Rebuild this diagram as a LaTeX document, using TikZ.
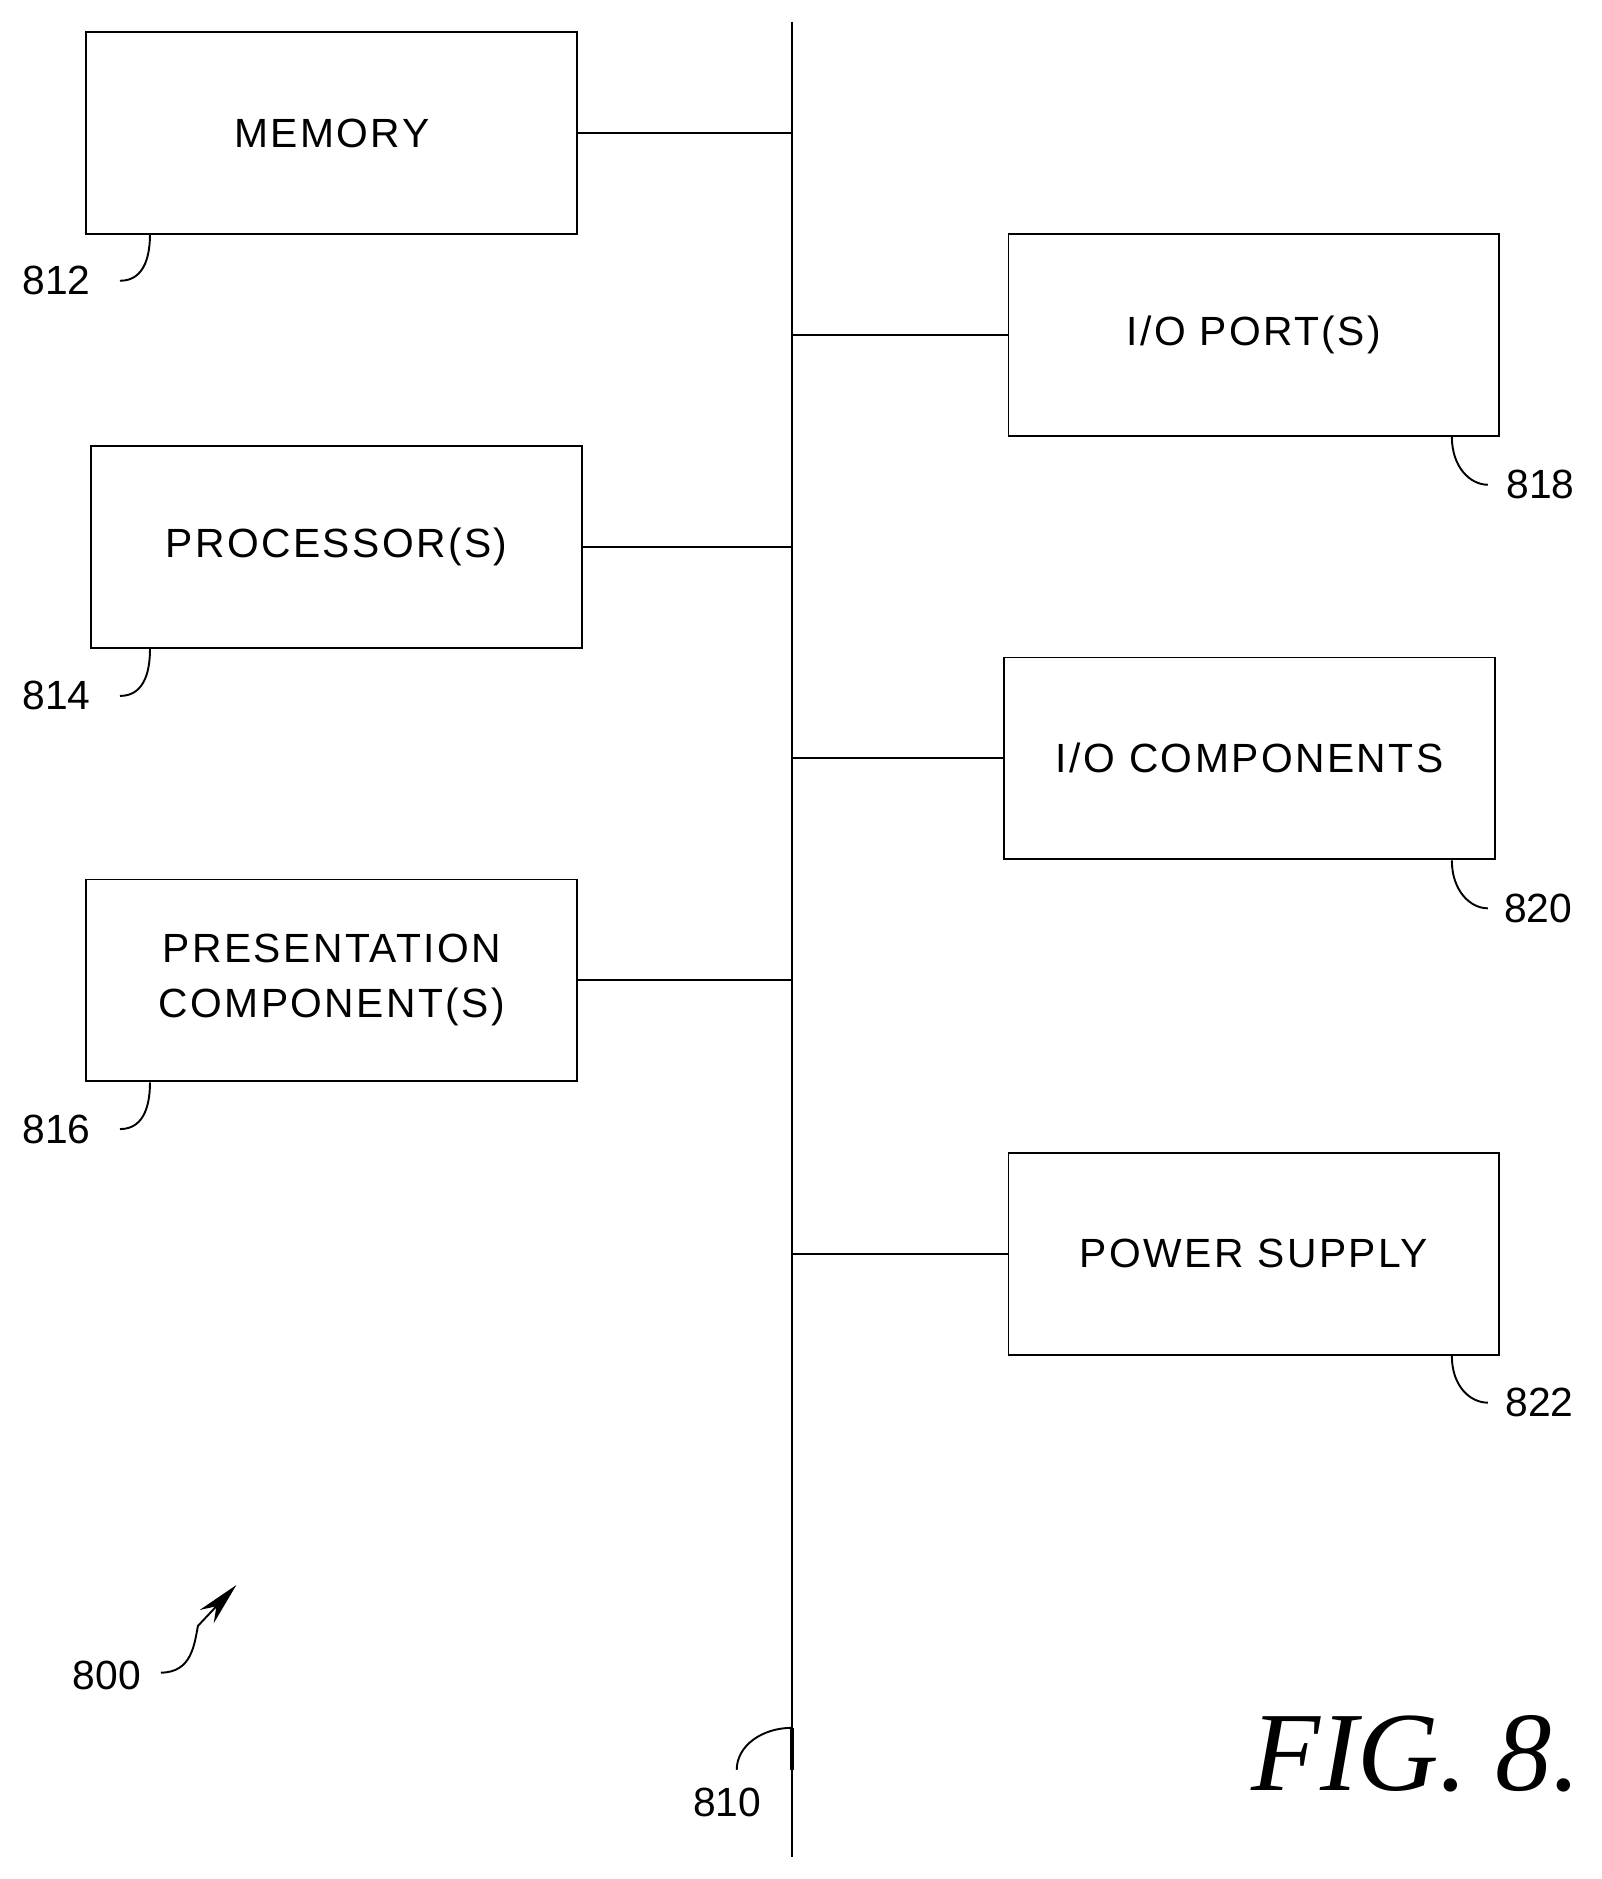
\documentclass[tikz,border=0pt]{standalone}
\usetikzlibrary{arrows.meta}
\usepackage{fontspec}
\setmainfont{Liberation Sans}
\newfontfamily\boxfont[LetterSpace=6]{Liberation Sans}
\newfontfamily\figfont{Liberation Serif}
\begin{document}
\begin{tikzpicture}[x=1pt,y=-1pt,
  box/.style={draw,line width=1.6pt,minimum width=409pt,minimum height=168pt,font=\boxfont\fontsize{34}{46}\selectfont,align=center,inner sep=0pt},
  lbl/.style={font=\fontsize{34}{34}\selectfont,inner sep=0pt},
  ln/.style={line width=1.6pt}]
\useasboundingbox (0,0) rectangle (1335,1566);
\coordinate (bt) at (660,18); \coordinate (bb) at (660,1548);
\draw[ln] (bt) -- (bb);
\draw[line width=3pt] (660,1440) -- (660,1475);
\node[box] (mem) at (276.5,111) {MEMORY};
\node[box] (proc) at (280.5,456) {PROCESSOR(S)};
\node[box] (pres) at (276.5,817) {PRESENTATION\\COMPONENT(S)};
\node[box] (iop) at (1045,279) {I/O PORT(S)};
\node[box] (ioc) at (1041.5,632) {I/O COMPONENTS};
\node[box] (pow) at (1045,1045) {POWER SUPPLY};
\foreach \n in {mem,proc,pres}{\draw[ln] (\n.east) -- (\n.east -| bt);}
\foreach \n in {iop,ioc,pow}{\draw[ln] (\n.west) -- (\n.west -| bt);}
\node[lbl] (l812) at (47,234) {812};
\node[lbl] (l814) at (47,580) {814};
\node[lbl] (l816) at (47,941) {816};
\node[lbl] (l818) at (1284,404) {818};
\node[lbl] (l820) at (1282,757) {820};
\node[lbl] (l822) at (1283,1169) {822};
\node[lbl] (l800) at (89,1396) {800};
\node[lbl] (l810) at (606,1502) {810};
\foreach \y/\b in {234/195,580/541,941/902}{
  \draw[ln] (100,\y) .. controls (122,\y) and (125,\b+15) .. (125,\b);}
\foreach \y/\b in {404/364,757/717,1169/1130}{
  \draw[ln] (1210,\b) .. controls (1210,\b+25) and (1225,\y) .. (1240,\y);}
\draw[ln,-{Stealth[length=36pt,width=16pt]}] (134,1394) .. controls (160,1394) and (162,1370) .. (165,1355) -- (197,1321);
\draw[ln] (614,1475) .. controls (614,1455) and (635,1440) .. (660,1440);
\node[font=\figfont\itshape\fontsize{94}{94}\selectfont,inner sep=0pt] (fig) at (1180,1462) {FIG. 8.};
\end{tikzpicture}
\end{document}
